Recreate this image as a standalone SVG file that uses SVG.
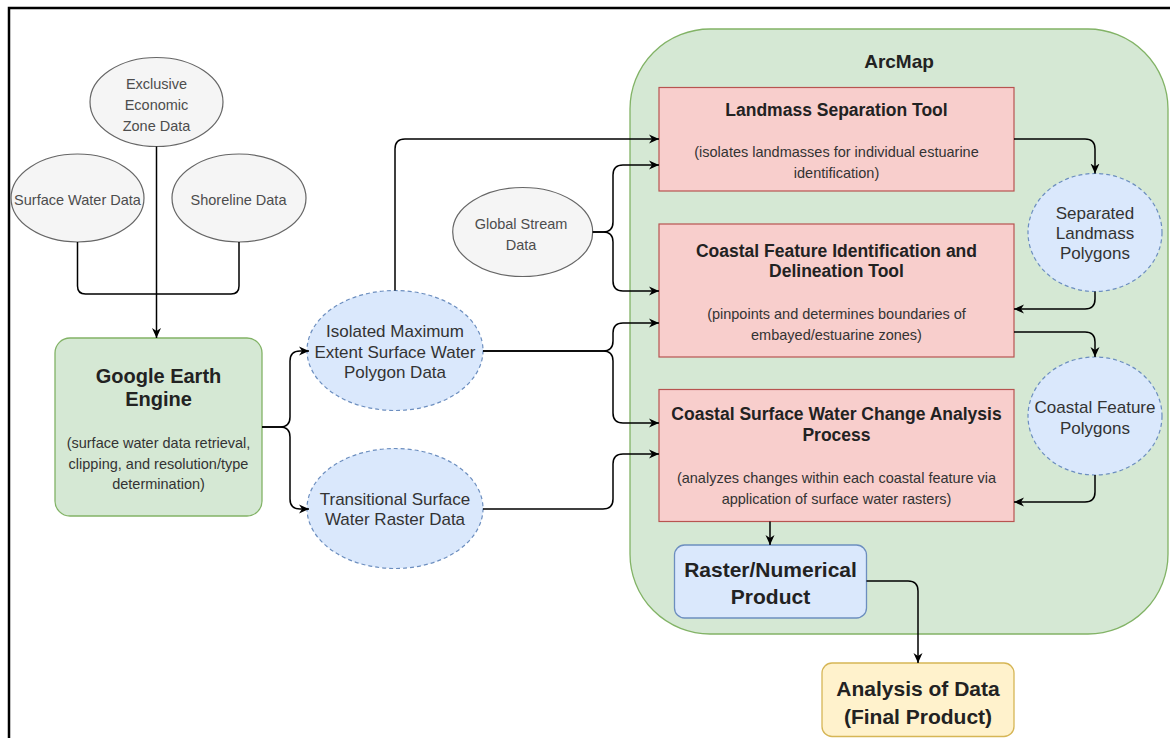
<svg xmlns="http://www.w3.org/2000/svg" width="1170" height="738" viewBox="0 0 1170 738">
<style>
text{font-family:"Liberation Sans",Arial,sans-serif;text-anchor:middle;}
.g{fill:#f5f5f5;stroke:#666;stroke-width:1.2;}
.b{fill:#dae8fc;stroke:#6c8ebf;stroke-width:1.2;stroke-dasharray:4 3;}
.r{fill:#f8cecc;stroke:#b85450;stroke-width:1.2;}
.gt{font-size:14.5px;fill:#4d4d4d;}
.bt{font-size:17px;fill:#333;}
.h{font-size:17.5px;font-weight:bold;fill:#222;}
.s{font-size:14.5px;fill:#333;}
.big{font-size:21px;font-weight:bold;fill:#222;}
.c{fill:none;stroke:#000;stroke-width:1.5;}
.a{marker-end:url(#arr);}
</style>
<defs>
<marker id="arr" markerUnits="userSpaceOnUse" markerWidth="11" markerHeight="10" refX="10" refY="5" orient="auto">
<path d="M0,0.5 L10,5 L0,9.5 L3,5 Z" fill="#000"/>
</marker>
</defs>
<rect width="1170" height="738" fill="#fff"/>
<path d="M9,738 V8 H1170" fill="none" stroke="#000" stroke-width="2.5"/>

<g id="arcmap">
<rect x="630" y="29" width="538" height="605" rx="80" ry="80" fill="#d5e8d4" stroke="#82b366" stroke-width="1.3"/>
<text x="899" y="68" style="font-size:19px;font-weight:bold;fill:#222">ArcMap</text>
</g>

<g id="eez">
<ellipse class="g" cx="156.5" cy="102" rx="66.5" ry="44.5"/>
<text class="gt" x="156.5" y="89">Exclusive</text>
<text class="gt" x="156.5" y="109.5">Economic</text>
<text class="gt" x="156.5" y="131">Zone Data</text>
</g>
<g id="surface-water">
<ellipse class="g" cx="77.5" cy="198" rx="66.5" ry="44"/>
<text class="gt" x="77.5" y="205">Surface Water Data</text>
</g>
<g id="shoreline">
<ellipse class="g" cx="239" cy="198" rx="67" ry="44"/>
<text class="gt" x="238.5" y="205">Shoreline Data</text>
</g>
<g id="global-stream">
<ellipse class="g" cx="522.7" cy="232" rx="70" ry="44.5"/>
<text class="gt" x="521" y="229">Global Stream</text>
<text class="gt" x="521" y="250">Data</text>
</g>

<g id="gee">
<rect x="55" y="338" width="207" height="178" rx="15" ry="15" fill="#d5e8d4" stroke="#82b366" stroke-width="1.3"/>
<text x="158.5" y="383" style="font-size:20px;font-weight:bold;fill:#222">Google Earth</text>
<text x="158.5" y="405.5" style="font-size:20px;font-weight:bold;fill:#222">Engine</text>
<text class="s" x="158.5" y="448">(surface water data retrieval,</text>
<text class="s" x="158.5" y="469">clipping, and resolution/type</text>
<text class="s" x="158.5" y="489">determination)</text>
</g>

<g id="isolated">
<ellipse class="b" cx="395" cy="350.5" rx="88" ry="60"/>
<text class="bt" x="395" y="336.7">Isolated Maximum</text>
<text class="bt" x="395" y="358">Extent Surface Water</text>
<text class="bt" x="395" y="378">Polygon Data</text>
</g>
<g id="transitional">
<ellipse class="b" cx="395" cy="508.5" rx="88" ry="60"/>
<text class="bt" x="395" y="505">Transitional Surface</text>
<text class="bt" x="395" y="525">Water Raster Data</text>
</g>

<g id="landmass-tool">
<rect class="r" x="659" y="87.5" width="355" height="103.5"/>
<text class="h" x="836.5" y="115.5">Landmass Separation Tool</text>
<text class="s" x="836.5" y="157">(isolates landmasses for individual estuarine</text>
<text class="s" x="836.5" y="177.7">identification)</text>
</g>
<g id="cfid-tool">
<rect class="r" x="659" y="224" width="355" height="133"/>
<text class="h" x="836.5" y="257">Coastal Feature Identification and</text>
<text class="h" x="836.5" y="277">Delineation Tool</text>
<text class="s" x="836.5" y="319">(pinpoints and determines boundaries of</text>
<text class="s" x="836.5" y="340">embayed/estuarine zones)</text>
</g>
<g id="cswcap">
<rect class="r" x="659" y="389.5" width="355" height="132"/>
<text class="h" x="836.5" y="420">Coastal Surface Water Change Analysis</text>
<text class="h" x="836.5" y="441">Process</text>
<text class="s" x="836.5" y="483">(analyzes changes within each coastal feature via</text>
<text class="s" x="836.5" y="504">application of surface water rasters)</text>
</g>

<g id="separated">
<ellipse class="b" cx="1095" cy="232.5" rx="67" ry="59"/>
<text class="bt" x="1095" y="218.7">Separated</text>
<text class="bt" x="1095" y="239">Landmass</text>
<text class="bt" x="1095" y="259">Polygons</text>
</g>
<g id="coastal-feature">
<ellipse class="b" cx="1095" cy="416" rx="67" ry="59"/>
<text class="bt" x="1095" y="413">Coastal Feature</text>
<text class="bt" x="1095" y="433.7">Polygons</text>
</g>

<g id="raster">
<rect x="674.5" y="545" width="192" height="73" rx="10" ry="10" fill="#dae8fc" stroke="#6c8ebf" stroke-width="1.3"/>
<text class="big" x="770.5" y="576.5">Raster/Numerical</text>
<text class="big" x="770.5" y="604">Product</text>
</g>
<g id="analysis">
<rect x="822" y="663" width="192" height="73.5" rx="10" ry="10" fill="#fff2cc" stroke="#d6b656" stroke-width="1.3"/>
<text class="big" x="918" y="695.5">Analysis of Data</text>
<text class="big" x="918" y="724">(Final Product)</text>
</g>

<g id="connectors">
<path class="c" d="M77.5,242 V286 Q77.5,294 85.5,294 H231 Q239,294 239,286 V242"/>
<path class="c a" d="M156.5,146.5 V338"/>
<path class="c a" d="M262,427 H280 Q290,427 290,417 V361 Q290,351 300,351 H309"/>
<path class="c a" d="M262,427 H280 Q290,427 290,437 V499 Q290,509 300,509 H309"/>
<path class="c a" d="M395,290.5 V149 Q395,139 405,139 H659"/>
<path class="c a" d="M592.7,232 H603 Q613,232 613,222 V175 Q613,165 623,165 H659"/>
<path class="c a" d="M592.7,232 H603 Q613,232 613,242 V281 Q613,291 623,291 H659"/>
<path class="c a" d="M483,351 H603 Q613,351 613,341 V333 Q613,323 623,323 H659"/>
<path class="c a" d="M483,351 H603 Q613,351 613,361 V413 Q613,423 623,423 H659"/>
<path class="c a" d="M483,509 H603 Q613,509 613,499 V464 Q613,454 623,454 H659"/>
<path class="c a" d="M1014,139 H1085 Q1095,139 1095,149 V173.5"/>
<path class="c a" d="M1095,291.5 V299 Q1095,309 1085,309 H1014"/>
<path class="c a" d="M1014,332 H1085 Q1095,332 1095,342 V357"/>
<path class="c a" d="M1095,475 V492 Q1095,502 1085,502 H1014"/>
<path class="c a" d="M770,521.5 V545"/>
<path class="c a" d="M866.5,581 H908 Q918,581 918,591 V663"/>
</g>
</svg>
